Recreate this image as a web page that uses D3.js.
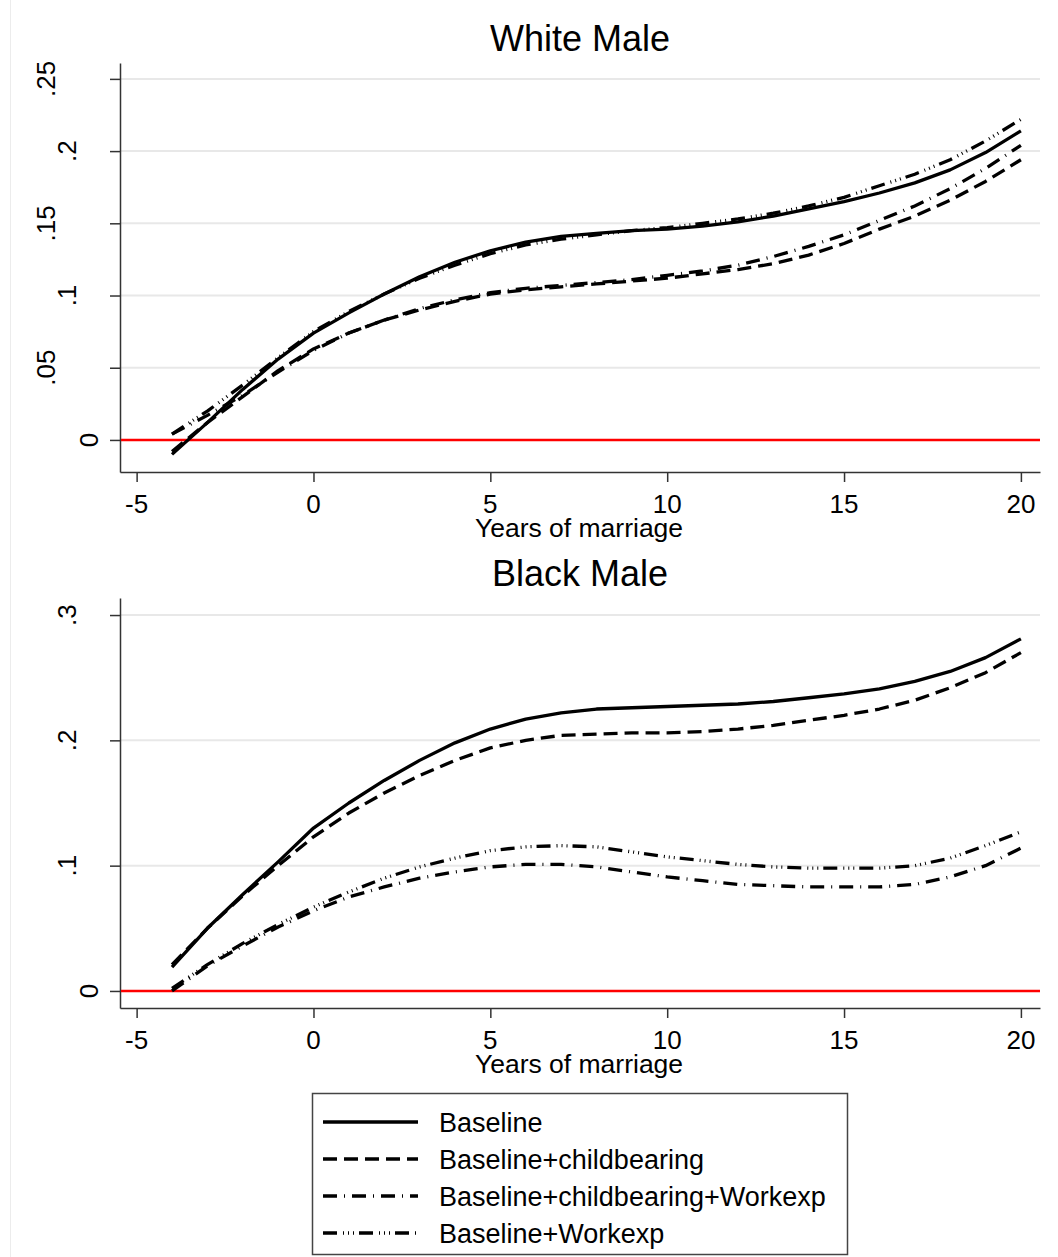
<!DOCTYPE html>
<html>
<head>
<meta charset="utf-8">
<script src="https://cdn.jsdelivr.net/npm/d3@7"></script>
<style>
  body { margin: 0; background: #fff; }
  text { font-family: "Liberation Sans", Arial, sans-serif; fill: #000; }
</style>
</head>
<body>
<script>
// years of marriage (x values)
var years = [-4,-3,-2,-1,0,1,2,3,4,5,6,7,8,9,10,11,12,13,14,15,16,17,18,19,20];

// White Male series
var whiteBaseline      = [-0.010,0.012,0.035,0.056,0.074,0.088,0.101,0.113,0.123,0.131,0.137,0.141,0.143,0.145,0.146,0.148,0.151,0.155,0.160,0.165,0.171,0.178,0.187,0.199,0.214];
var whiteChild         = [-0.008,0.012,0.030,0.048,0.063,0.074,0.083,0.090,0.096,0.101,0.104,0.106,0.108,0.110,0.112,0.115,0.118,0.122,0.128,0.136,0.146,0.155,0.166,0.179,0.194];
var whiteChildWork     = [0.004,0.017,0.031,0.047,0.062,0.074,0.083,0.091,0.097,0.102,0.105,0.107,0.109,0.111,0.114,0.117,0.121,0.127,0.134,0.142,0.152,0.162,0.174,0.188,0.204];
var whiteWork          = [0.004,0.020,0.038,0.057,0.075,0.089,0.101,0.112,0.121,0.129,0.135,0.139,0.142,0.145,0.147,0.150,0.153,0.157,0.162,0.168,0.176,0.184,0.194,0.207,0.222];

// Black Male series
var blackBaseline      = [0.019,0.050,0.077,0.103,0.130,0.150,0.168,0.184,0.198,0.209,0.217,0.222,0.225,0.226,0.227,0.228,0.229,0.231,0.234,0.237,0.241,0.247,0.255,0.266,0.281];
var blackChild         = [0.021,0.050,0.076,0.100,0.123,0.142,0.158,0.172,0.184,0.194,0.200,0.204,0.205,0.206,0.206,0.207,0.209,0.212,0.216,0.220,0.225,0.232,0.242,0.254,0.270];
var blackChildWork     = [0.000,0.020,0.036,0.051,0.064,0.075,0.083,0.090,0.095,0.099,0.101,0.101,0.099,0.095,0.091,0.088,0.085,0.084,0.083,0.083,0.083,0.085,0.091,0.100,0.114];
var blackWork          = [0.002,0.021,0.038,0.053,0.067,0.079,0.090,0.099,0.106,0.112,0.115,0.116,0.115,0.111,0.107,0.104,0.101,0.099,0.098,0.098,0.098,0.100,0.106,0.116,0.127];

var seriesNames = ['Baseline','Baseline+childbearing','Baseline+childbearing+Workexp','Baseline+Workexp'];
var xTicks = [-5,0,5,10,15,20];
var whiteTicks = [0,0.05,0.1,0.15,0.2,0.25];
var blackTicks = [0,0.1,0.2,0.3];

// line patterns for the four series
var dashes = ['none', '14,7', '14,7,1,7', '14,6,1,4,1,4,1,5'];

var W = 1058, H = 1257;
var svg = d3.select('body').append('svg')
    .attr('width', W).attr('height', H);

// faint region edge at the left
svg.append('line')
    .attr('x1', 10.5).attr('x2', 10.5).attr('y1', 0).attr('y2', H)
    .style('stroke', '#ececec').style('stroke-width', 1);

function fmt(v)
{
    if (v == 0) return '0';
    return String(v).replace(/^0/, '');
}

function drawPanel(opt)
{
    var x = d3.scaleLinear().domain([-5.47, 20.54]).range([120, 1040]);
    var y = d3.scaleLinear().domain(opt.ydom).range([opt.bottom, opt.top]);
    var g = svg.append('g');

    // gridlines
    g.selectAll('.grid').data(opt.yticks.filter(function(d){ return d != 0; }))
        .enter().append('line')
        .attr('x1', 120).attr('x2', 1040)
        .attr('y1', function(d){ return y(d); }).attr('y2', function(d){ return y(d); })
        .style('stroke', '#e8e8e8').style('stroke-width', 2);

    // y axis
    var yAxis = d3.axisLeft(y).tickValues(opt.yticks).tickSize(10).tickSizeOuter(0)
        .tickFormat(function(){ return ''; });
    var ya = g.append('g').attr('transform', 'translate(120,0)').call(yAxis);
    ya.select('.domain').style('stroke', '#333').style('stroke-width', 1.5);
    ya.selectAll('.tick line').style('stroke', '#333').style('stroke-width', 1.5);

    // rotated y labels (Stata offsets them by label length)
    g.selectAll('.ylab').data(opt.yticks).enter().append('text')
        .attr('transform', function(d){
            var s = fmt(d);
            return 'translate(' + (110 - 21.5*s.length) + ',' + y(d) + ') rotate(-90)';
        })
        .attr('text-anchor', 'middle')
        .attr('dy', '0.36em')
        .style('font-size', '26px')
        .text(fmt);

    // x axis
    var xAxis = d3.axisBottom(x).tickValues(xTicks).tickSize(10).tickSizeOuter(0)
        .tickFormat(function(){ return ''; });
    var xa = g.append('g').attr('transform', 'translate(0,' + opt.bottom + ')').call(xAxis);
    xa.select('.domain').style('stroke', '#333').style('stroke-width', 1.5);
    xa.selectAll('.tick line').style('stroke', '#333').style('stroke-width', 1.5);

    g.selectAll('.xlab').data(xTicks).enter().append('text')
        .attr('x', function(d){ return x(d); })
        .attr('y', opt.bottom + 41)
        .attr('text-anchor', 'middle')
        .style('font-size', '26px')
        .text(function(d){ return d; });

    g.append('text')
        .attr('x', 579).attr('y', opt.bottom + 65)
        .attr('text-anchor', 'middle')
        .style('font-size', '26.5px')
        .text('Years of marriage');

    // title
    g.append('text')
        .attr('x', 580).attr('y', opt.top - 12)
        .attr('text-anchor', 'middle')
        .style('font-size', '36px')
        .text(opt.title);

    // zero reference line
    g.append('line')
        .attr('x1', 121).attr('x2', 1040)
        .attr('y1', y(0)).attr('y2', y(0))
        .style('stroke', '#ff0000').style('stroke-width', 2.5);

    // series
    var line = d3.line()
        .x(function(d){ return x(d[0]); })
        .y(function(d){ return y(d[1]); });
    for (var i=0; i<opt.series.length; i++)
    {
        var pts = years.map(function(yr, j){ return [yr, opt.series[i][j]]; });
        g.append('path')
            .attr('d', line(pts))
            .style('fill', 'none')
            .style('stroke', '#000')
            .style('stroke-width', 3.3)
            .style('stroke-linejoin', 'round')
            .style('stroke-dasharray', dashes[i]);
    }
}

drawPanel({
    title: 'White Male',
    top: 63, bottom: 472,
    ydom: [-0.0222, 0.261],
    yticks: whiteTicks,
    series: [whiteBaseline, whiteChild, whiteChildWork, whiteWork]
});

drawPanel({
    title: 'Black Male',
    top: 598, bottom: 1008,
    ydom: [-0.0136, 0.3136],
    yticks: blackTicks,
    series: [blackBaseline, blackChild, blackChildWork, blackWork]
});

// legend
var lg = svg.append('g');
lg.append('rect')
    .attr('x', 312.5).attr('y', 1093.5).attr('width', 535).attr('height', 161)
    .style('fill', '#fff').style('stroke', '#444').style('stroke-width', 1.5);
var rowY = d3.scaleLinear().domain([0, 3]).range([1122, 1233]);
seriesNames.forEach(function(name, i)
{
    lg.append('line')
        .attr('x1', 323).attr('x2', 418)
        .attr('y1', rowY(i)).attr('y2', rowY(i))
        .style('stroke', '#000').style('stroke-width', 3.3)
        .style('stroke-dasharray', dashes[i]);
    lg.append('text')
        .attr('x', 439).attr('y', rowY(i) + 9.5)
        .style('font-size', '27px')
        .text(name);
});
</script>
</body>
</html>
